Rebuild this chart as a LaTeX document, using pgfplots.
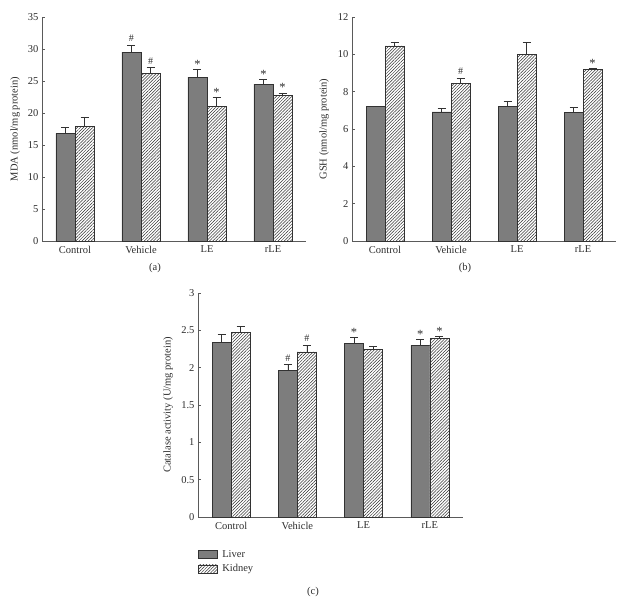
\documentclass[border=0pt]{standalone}
\usepackage{fontspec}
\setmainfont{Liberation Serif}
\usepackage{pgfplots}
\pgfplotsset{compat=1.18}
\usetikzlibrary{patterns.meta}

\definecolor{liverc}{RGB}{125,125,125}
\definecolor{edgec}{RGB}{50,50,50}
\definecolor{axc}{RGB}{90,90,90}
\definecolor{txtc}{RGB}{45,45,45}

\newcommand{\sig}{\raisebox{-2.6pt}{\fontsize{12.5}{13}\selectfont *}}

\pgfplotsset{
  panel/.style={
    scale only axis, width=264pt, height=224pt,
    axis lines=left, axis line style={axc, line width=0.7pt, -},
    xmin=-0.5, xmax=3.5, ymin=0,
    xtick={0,1,2,3}, xticklabels={Control,Vehicle,LE,rLE},
    x tick style={draw=none},
    y tick style={axc, line width=0.6pt},
    tick align=inside, major tick length=3pt,
    tick label style={font=\fontsize{10.5}{12}\selectfont, text=txtc},
    xticklabel style={yshift=-1.5pt},
    label style={font=\fontsize{10.5}{12}\selectfont, text=txtc},
    /pgf/number format/assume math mode=true,
    clip=false,
  },
  errs/.style={
    /pgfplots/error bars/y dir=plus, /pgfplots/error bars/y explicit,
    /pgfplots/error bars/error mark=-,
    /pgfplots/error bars/error bar style={edgec, line width=0.6pt},
    /pgfplots/error bars/error mark options={edgec, line width=0.6pt, mark size=4pt, rotate=90}},
  barleg/.style={legend image code/.code={\draw[##1,/tikz/.cd, line width=0.6pt] (0pt,-4pt) rectangle (19pt,4pt);}},
  liver/.style={ybar, bar width=19pt, bar shift=0pt, fill=liverc, draw=edgec, line width=0.6pt, errs, barleg},
  kidney/.style={ybar, bar width=19pt, bar shift=0pt, fill=white, draw=edgec, line width=0.6pt,
    postaction={pattern={Lines[angle=45, distance=2.2pt, line width=0.5pt]}, pattern color=edgec}, errs, barleg},
  annot/.style={draw=none, mark=none, forget plot, nodes near coords, point meta=explicit symbolic,
    nodes near coords style={anchor=base, yshift=3.5pt, inner sep=0pt, font=\fontsize{10}{11}\selectfont, text=txtc}},
}

\begin{document}
\begin{tikzpicture}[x=1pt,y=1pt]
\useasboundingbox (0,0) rectangle (631,603);

% Panel (a)
\begin{axis}[panel, at={(42pt,362pt)}, anchor=south west,
  ymax=35, ytick={0,5,...,35},
  ylabel={MDA (nmol/mg protein)},
  ylabel style={at={(axis description cs:-0.102,0.5)}, anchor=center}]
\addplot[liver] coordinates {(-0.144,16.8) +- (0,0.9) (0.856,29.5) +- (0,1.1) (1.856,25.6) +- (0,1.2) (2.856,24.5) +- (0,0.8)};
\addplot[kidney] coordinates {(0.144,17.9) +- (0,1.5) (1.144,26.2) +- (0,0.9) (2.144,21.0) +- (0,1.5) (3.144,22.7) +- (0,0.45)};
\addplot[annot] coordinates {(0.856,30.6) [\#] (1.144,27.1) [\#] (1.856,26.8) [\sig] (2.144,22.5) [\sig] (2.856,25.3) [\sig] (3.144,23.15) [\sig]};
\end{axis}
\node[font=\fontsize{10.5}{12}\selectfont, text=txtc] at (155,335) {(a)};

% Panel (b)
\begin{axis}[panel, at={(352pt,362pt)}, anchor=south west,
  ymax=12, ytick={0,2,...,12},
  ylabel={GSH (nmol/mg protein)},
  ylabel style={at={(axis description cs:-0.106,0.5)}, anchor=center}]
\addplot[liver] coordinates {(-0.144,7.2) +- (0,0) (0.856,6.92) +- (0,0.2) (1.856,7.23) +- (0,0.27) (2.856,6.9) +- (0,0.27)};
\addplot[kidney] coordinates {(0.144,10.45) +- (0,0.22) (1.144,8.46) +- (0,0.27) (2.144,10.0) +- (0,0.62) (3.144,9.2) +- (0,0.05)};
\addplot[annot] coordinates {(1.144,8.73) [\#] (3.144,9.25) [\sig]};
\end{axis}
\node[font=\fontsize{10.5}{12}\selectfont, text=txtc] at (465,335) {(b)};

% Panel (c)
\begin{axis}[panel, at={(198pt,86pt)}, anchor=south west, width=265pt,
  ymax=3, ytick={0,0.5,...,3},
  ylabel={Catalase activity (U/mg protein)},
  ylabel style={at={(axis description cs:-0.113,0.5)}, anchor=center},
  legend style={at={(0,-0.14)}, anchor=north west, draw=none, fill=none,
    font=\fontsize{10.5}{12}\selectfont, text=txtc, inner sep=0pt, row sep=3pt, column sep=3pt,
    nodes={inner sep=1.5pt}},
  legend cell align=left]
\addplot[liver] coordinates {(-0.144,2.34) +- (0,0.11) (0.856,1.96) +- (0,0.08) (1.856,2.33) +- (0,0.08) (2.856,2.30) +- (0,0.08)};
\addlegendentry{Liver}
\addplot[kidney] coordinates {(0.144,2.47) +- (0,0.08) (1.144,2.21) +- (0,0.09) (2.144,2.25) +- (0,0.04) (3.144,2.39) +- (0,0.03)};
\addlegendentry{Kidney}
\addplot[annot] coordinates {(0.856,2.04) [\#] (1.144,2.30) [\#] (1.856,2.41) [\sig] (2.856,2.38) [\sig] (3.144,2.42) [\sig]};
\end{axis}
\node[font=\fontsize{10.5}{12}\selectfont, text=txtc] at (313,11) {(c)};
\end{tikzpicture}
\end{document}
